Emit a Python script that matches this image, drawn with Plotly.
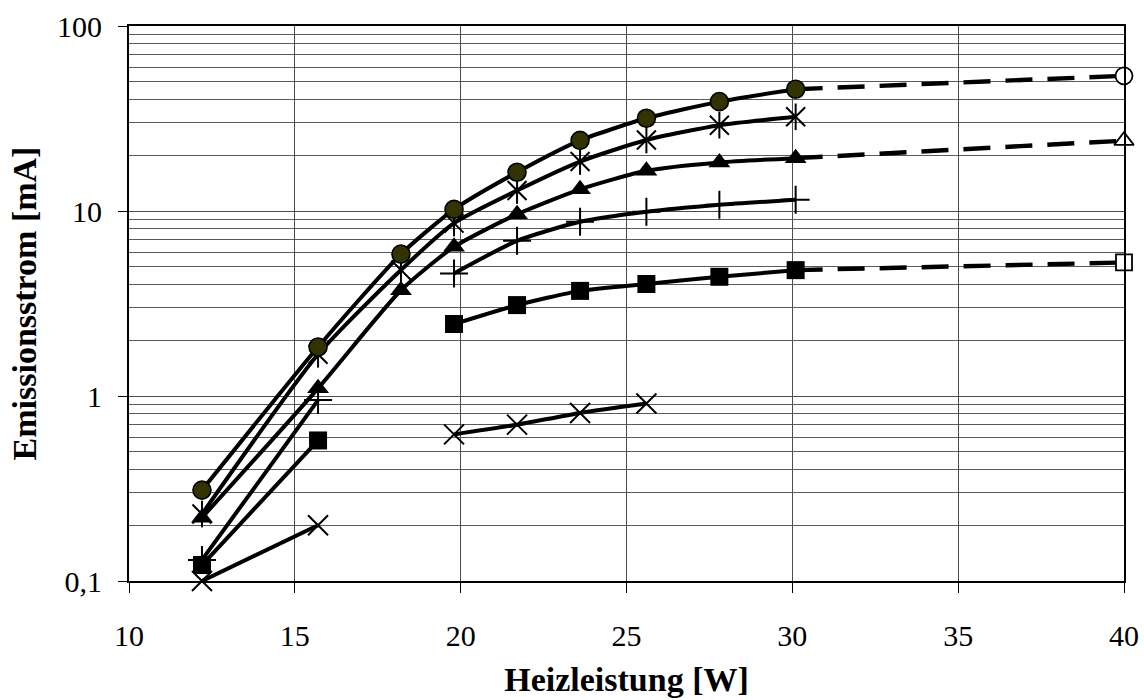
import plotly.graph_objects as go

# Heizleistung [W] measurement points
heizleistung = [12.2, 15.7, 18.2, 19.8, 21.7, 23.6, 25.6, 27.8, 30.1]
x_extrapol = [30.1, 40.0]

# Emissionsstrom [mA] per cathode series (None = not measured)
strom_kreis = [0.31, 1.84, 5.85, 10.2, 16.2, 24.1, 31.7, 39.0, 45.5]
strom_stern = [0.23, 1.68, 4.8, 8.6, 12.9, 18.5, 24.2, 29.1, 32.3]
strom_dreieck = [0.22, 1.10, 3.73, 6.4, 9.6, 13.1, 16.5, 18.3, 19.3]
strom_plus = [0.13, 0.95, None, 4.6, 6.9, 8.74, 9.9, 10.8, 11.5]
strom_quadrat = [0.122, 0.575, None, 2.45, 3.10, 3.70, 4.03, 4.41, 4.79]
strom_kreuz = [0.10, 0.20, None, 0.62, 0.70, 0.81, 0.91, None, None]

# Extrapolated values at 40 W
extrapol_kreis = [45.5, 53.8]
extrapol_dreieck = [19.3, 24.0]
extrapol_quadrat = [4.79, 5.27]

y_tickvals = [0.1, 1, 10, 100]
y_ticktext = ["0,1", "1", "10", "100"]
y_minor = [m * d for d in (0.1, 1, 10) for m in range(2, 10)]
x_tickvals = [10, 15, 20, 25, 30, 35, 40]

FONT = "Liberation Serif, Times New Roman, serif"
LINE_W = 4

fig = go.Figure()

# Dashed extrapolations (drawn first, below the solid curves)
for ys in (extrapol_kreis, extrapol_dreieck, extrapol_quadrat):
    fig.add_trace(go.Scatter(
        x=x_extrapol, y=ys, mode="lines",
        line=dict(color="black", width=4.4, dash="27px,15px"),
        hoverinfo="skip", showlegend=False, cliponaxis=False,
    ))

# Open end markers at 40 W
end_symbols = ["circle", "triangle-up", "square"]
end_sizes = [17, 17, 16]
for ys, sym, sz in zip((extrapol_kreis, extrapol_dreieck, extrapol_quadrat), end_symbols, end_sizes):
    fig.add_trace(go.Scatter(
        x=x_extrapol[1:], y=ys[1:], mode="markers",
        marker=dict(symbol=sym, size=sz, color="white",
                    line=dict(color="black", width=1.8)),
        showlegend=False, cliponaxis=False,
    ))

def curve(ys, marker):
    fig.add_trace(go.Scatter(
        x=heizleistung, y=ys, mode="lines+markers",
        line=dict(color="black", width=LINE_W, shape="spline", smoothing=0.6),
        marker=marker, connectgaps=False,
        showlegend=False, cliponaxis=False,
    ))

curve(strom_kreuz, dict(symbol="x-thin-open", size=20, color="black",
                        line=dict(color="black", width=2)))
curve(strom_quadrat, dict(symbol="square", size=18, color="black",
                          line=dict(color="black", width=0)))
curve(strom_plus, dict(symbol="cross-thin-open", size=20, color="black",
                       line=dict(color="black", width=2)))
curve(strom_dreieck, dict(symbol="triangle-up", size=19, color="black",
                          line=dict(color="black", width=0)))
curve(strom_stern, dict(symbol="x-thin-open", size=19, color="black",
                        line=dict(color="black", width=2)))
# vertical bar of the six-armed star marker
fig.add_trace(go.Scatter(
    x=heizleistung, y=strom_stern, mode="markers",
    marker=dict(symbol="line-ns-open", size=19, color="black",
                line=dict(color="black", width=2)),
    showlegend=False, cliponaxis=False,
))
curve(strom_kreis, dict(symbol="circle", size=18, color="#333300",
                        line=dict(color="black", width=1.6)))

fig.update_layout(
    width=1144, height=700,
    margin=dict(l=129, r=20, t=26, b=119),
    paper_bgcolor="white", plot_bgcolor="white",
    font=dict(family=FONT, color="black"),
    showlegend=False,
)

fig.update_xaxes(
    range=[10, 40], tickvals=x_tickvals, automargin=False,
    ticks="outside", ticklen=10, tickwidth=1, tickcolor="black",
    tickfont=dict(family=FONT, size=30, color="black"),
    ticklabelstandoff=17,
    showgrid=True, gridcolor="#4d4d4d", gridwidth=1,
    showline=True, linecolor="black", linewidth=2, mirror=True,
    zeroline=False,
    title=dict(text="Heizleistung [W]",
               font=dict(family=FONT, size=34, color="black", weight="bold"),
               standoff=16),
)

fig.update_yaxes(
    type="log", range=[-1, 2], automargin=False,
    tickmode="array", tickvals=y_tickvals, ticktext=y_ticktext,
    ticks="outside", ticklen=9, tickwidth=1, tickcolor="black",
    tickfont=dict(family=FONT, size=30, color="black"),
    ticklabelstandoff=10,
    showgrid=True, gridcolor="#4d4d4d", gridwidth=1,
    minor=dict(tickmode="array", tickvals=y_minor, showgrid=True,
               gridcolor="#5a5a5a", gridwidth=1, ticklen=0),
    showline=True, linecolor="black", linewidth=2, mirror=True,
    zeroline=False,
    title=dict(text="Emissionsstrom [mA]",
               font=dict(family=FONT, size=34, color="black", weight="bold"),
               standoff=10),
)

fig.write_html("out.html")
